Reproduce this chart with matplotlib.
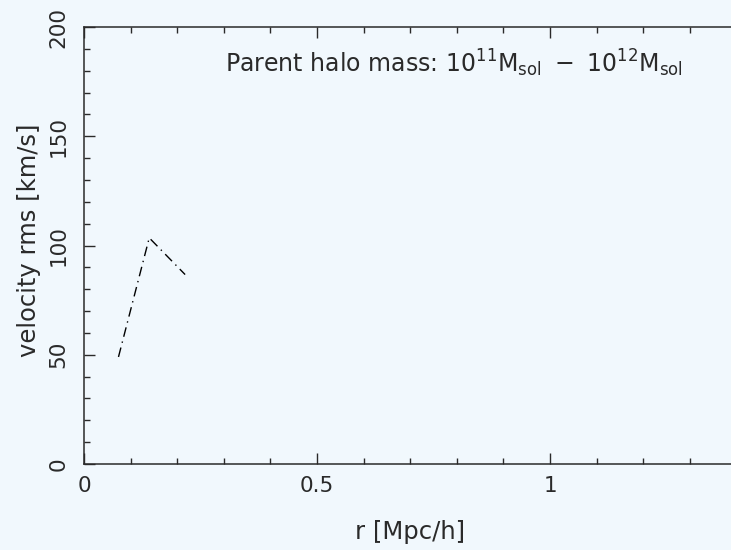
import matplotlib
matplotlib.use("Agg")
import matplotlib.pyplot as plt
from matplotlib.ticker import MultipleLocator

# data
r_mpc = [0.074, 0.140, 0.217]
v_rms = [49.0, 103.5, 86.7]

x_major = [0, 0.5, 1]
x_labels = ["0", "0.5", "1"]
y_major = [0, 50, 100, 150, 200]
y_labels = ["0", "50", "100", "150", "200"]

bg = "#f1f8fd"
ink = "#2a2a2a"

plt.rcParams['font.family'] = ['DejaVu Sans']
plt.rcParams['mathtext.fontset'] = 'dejavusans'

fig = plt.figure(figsize=(7.31, 5.50), dpi=100, facecolor=bg)
# axes runs past the right edge, like the cropped original
ax = fig.add_axes([84 / 731, 86 / 550, 1.5 * 466 / 731, 437 / 550])
ax.set_facecolor(bg)

ax.plot(r_mpc, v_rms, color="black", linewidth=1.0,
        linestyle=(0, (7, 3.5, 1, 3.5)))

ax.set_xlim(0, 1.5)
ax.set_ylim(0, 200)

ax.set_xticks(x_major)
ax.set_xticklabels(x_labels)
ax.set_yticks(y_major)
ax.set_yticklabels(y_labels, rotation=90, va="center")
ax.xaxis.set_minor_locator(MultipleLocator(0.1))
ax.yaxis.set_minor_locator(MultipleLocator(10))

ax.tick_params(which="both", direction="in", top=True, right=True,
               color=ink, width=1.0, labelcolor=ink, labelsize=15.5)
ax.tick_params(which="major", length=8)
ax.tick_params(which="minor", length=4.3)
ax.tick_params(axis="x", pad=9)
ax.tick_params(axis="y", pad=11)

for s in ax.spines.values():
    s.set_color(ink)
    s.set_linewidth(1.1)

fig.text(29 / 731, 1 - 240 / 550, "velocity rms [km/s]", rotation=90,
         ha="center", va="center", fontsize=17.5, color=ink)
fig.text(410 / 731, 1 - 532 / 550, "r [Mpc/h]", ha="center", va="center",
         fontsize=17.5, color=ink)
fig.text(225 / 731, 1 - 72 / 550,
         r"Parent halo mass: $\mathregular{10^{11}M_{sol}\ -\ 10^{12}M_{sol}}$",
         ha="left", va="baseline", fontsize=17, color=ink)

fig.savefig("out.png", dpi=100, facecolor=bg)
